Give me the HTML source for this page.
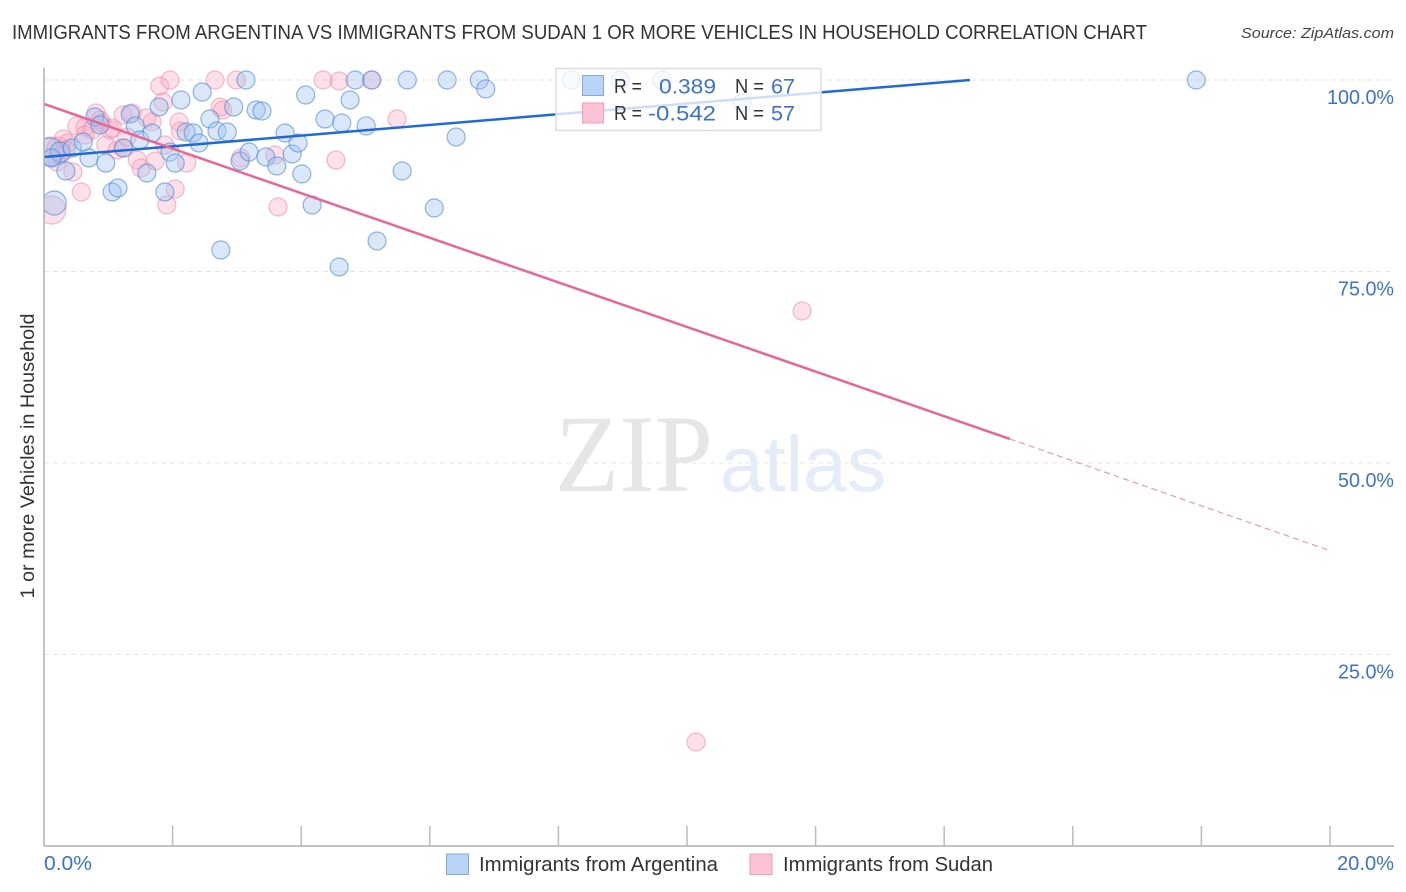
<!DOCTYPE html>
<html>
<head>
<meta charset="utf-8">
<title>Immigrants from Argentina vs Immigrants from Sudan correlation chart</title>
<style>
html,body{margin:0;padding:0;background:#fff;}
svg{display:block;font-family:"Liberation Sans",sans-serif;}
</style>
</head>
<body>
<svg id="chart" xmlns="http://www.w3.org/2000/svg" width="1406" height="892" viewBox="0 0 1406 892">
  <defs><clipPath id="plot-clip"><rect x="44" y="60" width="1350" height="786"/></clipPath></defs>
  <text x="12" y="39" font-size="20" fill="#333" textLength="1135" lengthAdjust="spacingAndGlyphs">IMMIGRANTS FROM ARGENTINA VS IMMIGRANTS FROM SUDAN 1 OR MORE VEHICLES IN HOUSEHOLD CORRELATION CHART</text>
  <text x="1241" y="38" font-size="15" font-style="italic" fill="#444" textLength="153" lengthAdjust="spacingAndGlyphs">Source: ZipAtlas.com</text>
  <g id="grid"></g>
  <g>
    <text x="555" y="491" font-family="'Liberation Serif',serif" font-size="110" fill="#e6e6e6" textLength="158" lengthAdjust="spacingAndGlyphs">ZIP</text>
    <text x="720" y="491" font-size="79" fill="#e3ecf8" textLength="166" lengthAdjust="spacingAndGlyphs">atlas</text>
  </g>
  <g id="points" clip-path="url(#plot-clip)"></g>
  <g id="trends"></g>
  <g id="axes"></g>
  <text transform="translate(34,456) rotate(-90)" text-anchor="middle" font-size="19" fill="#333" textLength="285" lengthAdjust="spacingAndGlyphs">1 or more Vehicles in Household</text>

  <g>
    <rect x="556" y="68.5" width="265" height="62" fill="#fff" fill-opacity="0.78" stroke="#ddd" stroke-width="1.5"/>
    <rect x="582.5" y="75.5" width="21" height="20" fill="#b9d4f7" stroke="#7fa9e2" stroke-width="1"/>
    <rect x="582.5" y="103" width="21" height="20" fill="#fbc3d5" stroke="#f09cb8" stroke-width="1"/>
    <g font-size="20" fill="#333">
      <text x="614" y="93" textLength="28" lengthAdjust="spacingAndGlyphs">R =</text>
      <text x="614" y="120" textLength="28" lengthAdjust="spacingAndGlyphs">R =</text>
      <text x="735" y="93" textLength="29" lengthAdjust="spacingAndGlyphs">N =</text>
      <text x="735" y="120" textLength="29" lengthAdjust="spacingAndGlyphs">N =</text>
    </g>
    <g font-size="21" fill="#3b72d0">
      <text x="659" y="93.5" textLength="57" lengthAdjust="spacingAndGlyphs">0.389</text>
      <text x="648" y="120.5" textLength="68" lengthAdjust="spacingAndGlyphs">-0.542</text>
      <text x="771" y="93.5" textLength="24" lengthAdjust="spacingAndGlyphs">67</text>
      <text x="771" y="120.5" textLength="24" lengthAdjust="spacingAndGlyphs">57</text>
    </g>
  </g>

  <g>
    <rect x="446.5" y="854" width="22" height="20.5" fill="#b9d4f7" stroke="#7fa9e2" stroke-width="1"/>
    <text x="479" y="871" font-size="20" fill="#333" textLength="239" lengthAdjust="spacingAndGlyphs">Immigrants from Argentina</text>
    <rect x="750" y="854" width="22" height="20.5" fill="#fbc3d5" stroke="#f09cb8" stroke-width="1"/>
    <text x="783" y="871" font-size="20" fill="#333" textLength="210" lengthAdjust="spacingAndGlyphs">Immigrants from Sudan</text>
  </g>
</svg>
<script>
var xTickValues = [0,2,4,6,8,10,12,14,16,18,20];
var yTickValues = [100,75,50,25];
var yTickLabels = ["100.0%","75.0%","50.0%","25.0%"];
var xEndLabels = ["0.0%","20.0%"];

var blueX = [0.09,0.16,0.25,0.12,0.44,0.61,0.70,0.34,0.79,0.87,0.96,1.06,1.15,1.24,1.34,1.42,1.49,1.60,1.68,1.79,1.88,1.96,2.04,2.13,2.21,2.32,2.41,2.46,2.58,2.69,2.75,2.85,2.95,3.05,3.14,3.19,3.30,3.39,3.45,3.62,3.75,3.86,3.95,4.01,4.07,4.17,4.37,4.59,4.63,4.76,4.84,5.01,5.10,5.18,5.57,5.65,6.07,6.27,6.41,6.77,6.87,8.20,8.96,9.61,10.86,17.92];
var blueY = [90.6,83.94,90.6,89.82,91.12,91.91,89.82,88.12,95.17,94.13,89.16,85.38,85.90,91.12,95.56,94.0,92.17,87.86,93.08,96.48,85.38,90.6,89.16,97.39,93.21,93.08,91.78,98.43,94.91,93.34,77.81,93.21,96.48,89.43,100,90.6,96.08,95.95,89.95,88.77,93.08,90.34,91.78,87.73,98.04,83.68,94.91,75.59,94.39,97.39,100,94.0,100,78.98,88.12,100,83.29,100,92.56,100,98.83,100,100,100,97.0,100];
var blueSize = [14,12,10,9,9,9,9,9,9,9,9,9,9,9,9,9,9,9,9,9,9,9,9,9,9,9,9,9,9,9,9,9,9,9,9,9,9,9,9,9,9,9,9,9,9,9,9,9,9,9,9,9,9,9,9,9,9,9,9,9,9,9,9,9,9,9];

var pinkX = [0.12,0.11,0.22,0.30,0.37,0.20,0.26,0.34,0.45,0.51,0.64,0.64,0.58,0.75,0.81,0.87,0.90,0.96,1.03,1.06,1.14,1.23,1.23,1.29,1.37,1.45,1.51,1.60,1.68,1.73,1.80,1.85,1.88,1.91,1.96,2.04,2.10,2.12,2.22,2.66,2.74,2.78,2.99,3.06,3.59,3.64,4.34,4.54,4.59,5.09,5.49,10.14,11.79];
var pinkY = [83.03,90.86,91.12,92.3,91.78,89.3,90.21,90.86,87.99,94.0,93.86,92.82,85.38,93.47,95.69,94.78,94.39,91.51,93.47,93.73,90.86,95.43,91.12,92.56,95.69,89.56,88.51,95.04,94.52,89.43,99.22,97.13,91.51,83.68,100,85.77,94.52,93.34,89.16,100,96.48,96.08,100,89.82,90.21,83.42,100,89.56,99.87,100,94.91,13.58,69.84];
var pinkSize = [14,13,11,9,9,9,9,9,9,9,9,9,9,9,9,9,9,9,9,9,9,9,9,9,9,9,9,9,9,9,9,9,9,9,9,9,9,9,9,9,9,9,9,9,9,9,9,9,9,9,9,9,9];

var blueTrendX = [0,14.4];
var blueTrendY = [89.95,100];
var pinkSolidX = [0,15.02];
var pinkSolidY = [96.87,53.14];
var pinkDashX = [15.02,20];
var pinkDashY = [53.14,38.55];

var NS = 'http://www.w3.org/2000/svg';
function xScale(v){ return 44 + v * 64.3; }
function yScale(v){ return 80 + (100 - v) * 7.66; }

function make(tag, attrs, parent){
  var el = document.createElementNS(NS, tag);
  for (var k in attrs) el.setAttribute(k, attrs[k]);
  parent.appendChild(el);
  return el;
}

var gridG = document.getElementById('grid');
var axesG = document.getElementById('axes');
var pointsG = document.getElementById('points');
var trendsG = document.getElementById('trends');

yTickValues.forEach(function(v, i){
  var line = make('line', {x1:44, x2:1394, y1:yScale(v), y2:yScale(v), stroke:'#e4e4e4', 'stroke-width':1, 'stroke-dasharray':'5 4'}, gridG);
  
  
  var lab = make('text', {x:1394, y:yScale(v)+24, 'text-anchor':'end', 'font-size':20, fill:'#3b72d0', textLength:yTickLabels[i].length === 6 ? 67 : 56, lengthAdjust:'spacingAndGlyphs'}, axesG);
  lab.textContent = yTickLabels[i];
  
  
});

var yAxis = make('line', {x1:44, x2:44, y1:68, y2:846, stroke:'#b0b0b0', 'stroke-width':1.5}, axesG);


var xAxis = make('line', {x1:44, x2:1394, y1:846, y2:846, stroke:'#b0b0b0', 'stroke-width':1.5}, axesG);



xTickValues.forEach(function(v){
  var tick = make('line', {x1:xScale(v), x2:xScale(v), y1:826, y2:846, stroke:'#bcbcbc', 'stroke-width':1.5}, axesG);
  
  
});

var x0 = make('text', {x:44, y:870, 'font-size':20, fill:'#3b72d0', textLength:48, lengthAdjust:'spacingAndGlyphs'}, axesG);
x0.textContent = xEndLabels[0];


var x1 = make('text', {x:1337, y:870, 'font-size':20, fill:'#3b72d0', textLength:57, lengthAdjust:'spacingAndGlyphs'}, axesG);
x1.textContent = xEndLabels[1];



pinkX.forEach(function(v, i){
  var c = make('circle', {cx:xScale(v), cy:yScale(pinkY[i]), r:pinkSize[i], fill:'#f9a8c2', 'fill-opacity':0.36, stroke:'#ee8fae', 'stroke-opacity':0.6, 'stroke-width':1.2}, pointsG);
  
  
});
blueX.forEach(function(v, i){
  var c = make('circle', {cx:xScale(v), cy:yScale(blueY[i]), r:blueSize[i], fill:'#9fc4f0', 'fill-opacity':0.4, stroke:'#4f87d8', 'stroke-opacity':0.62, 'stroke-width':1.2}, pointsG);
  
  
});

var blueLine = make('line', {x1:xScale(blueTrendX[0]), y1:yScale(blueTrendY[0]), x2:xScale(blueTrendX[1]), y2:yScale(blueTrendY[1]), stroke:'#1f6ad6', 'stroke-width':2.5}, trendsG);


var pinkLine = make('line', {x1:xScale(pinkSolidX[0]), y1:yScale(pinkSolidY[0]), x2:xScale(pinkSolidX[1]), y2:yScale(pinkSolidY[1]), stroke:'#e8659a', 'stroke-width':2.5}, trendsG);


var pinkDash = make('line', {x1:xScale(pinkDashX[0]), y1:yScale(pinkDashY[0]), x2:xScale(pinkDashX[1]), y2:yScale(pinkDashY[1]), stroke:'#e8659a', 'stroke-width':1, 'stroke-dasharray':'6 4', 'stroke-opacity':0.8}, trendsG);


</script>
</body>
</html>
